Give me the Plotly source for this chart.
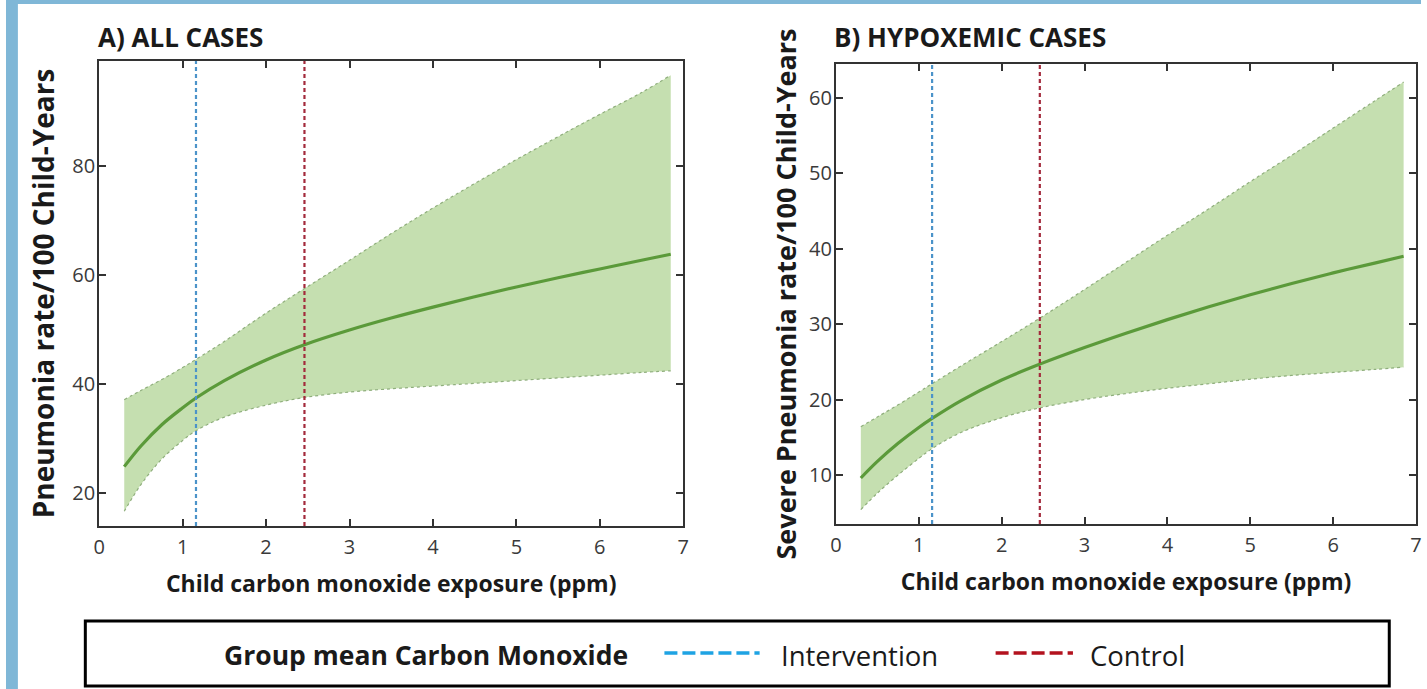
import plotly.graph_objects as go

# ---------------- data ----------------
co_ppm = [0.3, 0.5, 0.75, 1.0, 1.16, 1.5, 2.0, 2.46, 3.0, 3.5, 4.0, 4.5, 5.0, 5.5, 6.0, 6.5, 6.85]

all_mean  = [24.8, 28.6, 32.5, 35.6, 37.4, 40.6, 44.4, 47.2, 49.9, 52.1, 54.1, 56.0, 57.8, 59.5, 61.1, 62.7, 63.8]
all_upper = [37.1, 38.8, 40.8, 43.0, 44.5, 47.8, 53.0, 57.5, 62.7, 67.6, 72.3, 76.8, 81.2, 85.4, 89.5, 93.5, 96.7]
all_lower = [16.6, 21.5, 26.2, 29.6, 31.4, 33.9, 36.1, 37.5, 38.5, 39.1, 39.6, 40.1, 40.6, 41.1, 41.6, 42.1, 42.4]

hyp_mean  = [9.6, 11.8, 14.2, 16.3, 17.5, 19.8, 22.6, 24.7, 26.9, 28.8, 30.6, 32.3, 33.9, 35.4, 36.8, 38.1, 39.0]
hyp_upper = [16.4, 17.7, 19.3, 21.0, 22.1, 24.4, 27.7, 30.8, 34.6, 38.2, 41.8, 45.3, 48.9, 52.4, 56.0, 59.6, 62.1]
hyp_lower = [5.4, 7.6, 10.0, 12.2, 13.5, 15.6, 17.6, 18.9, 20.0, 20.8, 21.5, 22.1, 22.7, 23.2, 23.6, 24.0, 24.3]

group_means = {"Intervention": 1.16, "Control": 2.46}

x_ticks = [0, 1, 2, 3, 4, 5, 6, 7]
y_ticks_all = [20, 40, 60, 80]
y_ticks_hyp = [10, 20, 30, 40, 50, 60]

panel_titles = ["A) ALL CASES", "B) HYPOXEMIC CASES"]
x_title = "Child carbon monoxide exposure (ppm)"
y_titles = ["Pneumonia rate/100 Child-Years", "Severe Pneumonia rate/100 Child-Years"]
legend_title = "Group mean Carbon Monoxide"

# ---------------- styling ----------------
W, H = 1427, 689
FONT = "Open Sans"
BAND = "rgba(197,223,176,1)"
EDGE = "#8fae7c"
MEANC = "#5b9a3a"
VCOL = {"Intervention": "#4b93c9", "Control": "#a32a3c"}
LCOL = {"Intervention": "#1ea3e3", "Control": "#b3121e"}
AX = "#333333"
TXT = "#1a1a1a"

def px_x(p):
    return p / W

def px_y(p):
    return 1 - p / H

fig = go.Figure()

panels = [
    dict(xa="x", ya="y", mean=all_mean, up=all_upper, lo=all_lower),
    dict(xa="x2", ya="y2", mean=hyp_mean, up=hyp_upper, lo=hyp_lower),
]
for p in panels:
    fig.add_trace(go.Scatter(x=co_ppm, y=p["lo"], xaxis=p["xa"], yaxis=p["ya"], mode="lines",
                             line=dict(color=EDGE, width=1.2, dash="dot", shape="spline"),
                             showlegend=False, hoverinfo="skip"))
    fig.add_trace(go.Scatter(x=co_ppm, y=p["up"], xaxis=p["xa"], yaxis=p["ya"], mode="lines",
                             fill="tonexty", fillcolor=BAND,
                             line=dict(color=EDGE, width=1.2, dash="dot", shape="spline"),
                             showlegend=False, hoverinfo="skip"))
    fig.add_trace(go.Scatter(x=co_ppm, y=p["mean"], xaxis=p["xa"], yaxis=p["ya"], mode="lines",
                             line=dict(color=MEANC, width=3.2, shape="spline"),
                             showlegend=False))
    for name, v in group_means.items():
        fig.add_shape(type="line", xref=p["xa"], yref=p["ya"] + " domain", x0=v, x1=v, y0=0, y1=1,
                      line=dict(color=VCOL[name], width=2.2, dash="4px,3px"), layer="above")

axis_common = dict(showline=True, linecolor=AX, linewidth=2, mirror="ticks", ticks="inside",
                   ticklen=7, tickwidth=2, tickcolor=AX, showgrid=False, zeroline=False,
                   tickfont=dict(family=FONT, size=20, color="#3a3a3a"))

xt = dict(text="<b>" + x_title + "</b>", font=dict(family=FONT, size=23, color=TXT), standoff=17)

fig.update_layout(
    width=W, height=H, margin=dict(l=0, r=0, t=0, b=0),
    paper_bgcolor="white", plot_bgcolor="white",
    showlegend=False,
    xaxis=dict(domain=[px_x(94), px_x(683)], range=[0, 7], tickvals=x_ticks, anchor="y",
               title=xt, ticklabelstandoff=2, **axis_common),
    yaxis=dict(domain=[px_y(526), px_y(61)], range=[13.9, 99.3], tickvals=y_ticks_all, anchor="x",
               title=dict(text="<b>" + y_titles[0] + "</b>", font=dict(family=FONT, size=28, color=TXT), standoff=10),
               ticklabelstandoff=-2, **axis_common),
    xaxis2=dict(domain=[px_x(837), px_x(1422)], range=[0, 7], tickvals=x_ticks, anchor="y2",
                title=xt, ticklabelstandoff=2, **axis_common),
    yaxis2=dict(domain=[px_y(524), px_y(64)], range=[3.5, 64.5], tickvals=y_ticks_hyp, anchor="x2",
                title=dict(text="<b>" + y_titles[1] + "</b>", font=dict(family=FONT, size=27, color=TXT), standoff=5),
                ticklabelstandoff=-2, **axis_common),
)

# background strips (blue frame at left and top)
fig.add_shape(type="rect", xref="paper", yref="paper", x0=0, x1=px_x(12), y0=0, y1=1,
              fillcolor="#7fb7d7", line=dict(width=0), layer="below")
fig.add_shape(type="rect", xref="paper", yref="paper", x0=0, x1=1, y0=px_y(4), y1=1,
              fillcolor="#7fb7d7", line=dict(width=0), layer="below")

# panel titles
fig.add_annotation(text="<b>" + panel_titles[0] + "</b>", xref="paper", yref="paper",
                   x=px_x(91), y=px_y(37), xanchor="left", yanchor="middle", showarrow=False,
                   font=dict(family=FONT, size=26, color=TXT))
fig.add_annotation(text="<b>" + panel_titles[1] + "</b>", xref="paper", yref="paper",
                   x=px_x(833), y=px_y(37), xanchor="left", yanchor="middle", showarrow=False,
                   font=dict(family=FONT, size=26, color=TXT))

# legend box
fig.add_shape(type="rect", xref="paper", yref="paper", x0=px_x(80), x1=px_x(1395), y0=px_y(686), y1=px_y(621),
              line=dict(color="black", width=3), fillcolor="rgba(0,0,0,0)")
fig.add_annotation(text="<b>" + legend_title + "</b>", xref="paper", yref="paper",
                   x=px_x(218), y=px_y(655), xanchor="left", yanchor="middle", showarrow=False,
                   font=dict(family=FONT, size=26.5, color=TXT))
leg_items = [("Intervention", 664, 760, 780), ("Control", 998, 1076, 1091)]
for name, a, b, t in leg_items:
    fig.add_shape(type="line", xref="paper", yref="paper", x0=px_x(a), x1=px_x(b), y0=px_y(653), y1=px_y(653),
                  line=dict(color=LCOL[name], width=3.5, dash="13px,5px"))
    fig.add_annotation(text=name, xref="paper", yref="paper", x=px_x(t), y=px_y(655),
                       xanchor="left", yanchor="middle", showarrow=False,
                       font=dict(family=FONT, size=27.5, color=TXT))

fig.write_html("out.html", config={"displayModeBar": False},
               post_script="document.body.style.margin='0';document.body.style.overflow='hidden';")
